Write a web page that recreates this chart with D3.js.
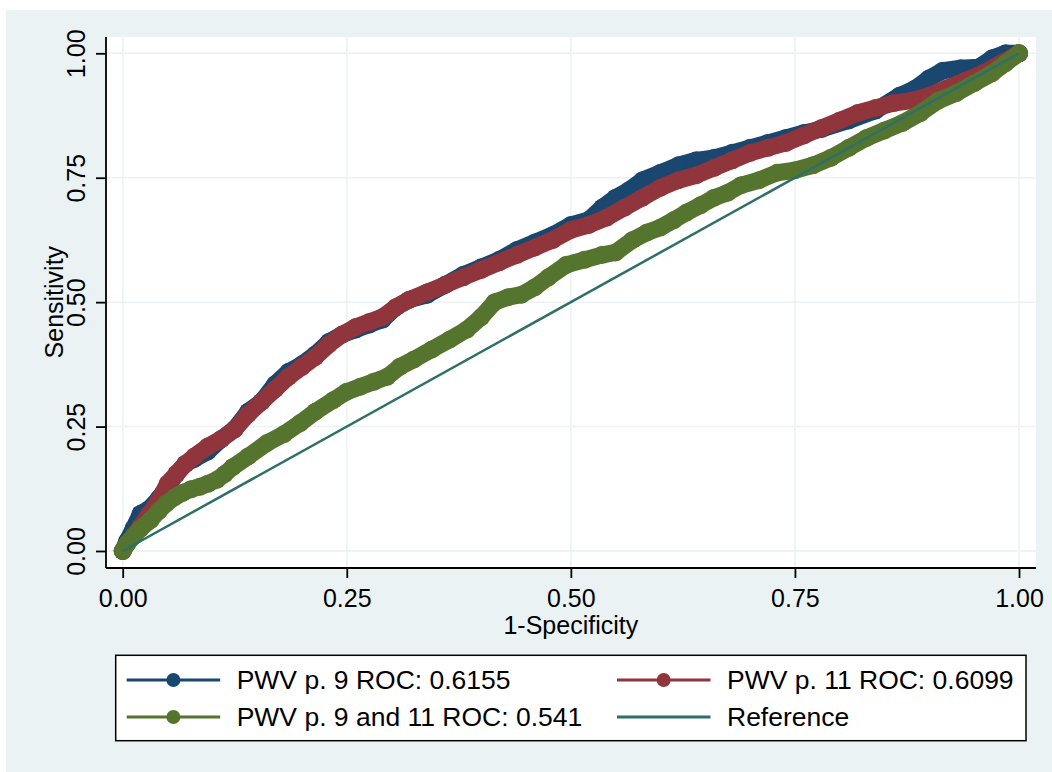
<!DOCTYPE html>
<html>
<head>
<meta charset="utf-8">
<script src="https://cdn.jsdelivr.net/npm/d3@7"></script>
<style>
  html, body { margin: 0; padding: 0; background: #ffffff; }
  svg { display: block; }
  text { font-family: "Liberation Sans", Arial, Helvetica, sans-serif; fill: #000; }
</style>
</head>
<body>
<svg id="chart" width="1052" height="772"></svg>
<script>
// ROC points [1-specificity, sensitivity] for each marker
const pwv9 = [
  [0,0],[0.005,0.02],[0.012,0.045],[0.02,0.075],[0.03,0.085],[0.04,0.105],[0.05,0.13],
  [0.06,0.155],[0.07,0.175],[0.08,0.185],[0.095,0.2],[0.11,0.225],[0.125,0.245],[0.14,0.28],
  [0.155,0.3],[0.17,0.335],[0.185,0.36],[0.2,0.375],[0.215,0.395],[0.23,0.42],[0.245,0.435],
  [0.26,0.445],[0.275,0.455],[0.29,0.465],[0.305,0.49],[0.32,0.505],[0.34,0.515],[0.36,0.535],
  [0.38,0.555],[0.40,0.57],[0.42,0.585],[0.44,0.605],[0.46,0.62],[0.48,0.635],[0.50,0.655],
  [0.52,0.665],[0.535,0.69],[0.55,0.71],[0.565,0.725],[0.58,0.745],[0.60,0.76],[0.62,0.775],
  [0.64,0.785],[0.66,0.79],[0.68,0.80],[0.70,0.81],[0.72,0.82],[0.74,0.83],[0.76,0.84],
  [0.78,0.848],[0.81,0.865],[0.84,0.885],[0.867,0.915],[0.885,0.93],[0.90,0.95],[0.915,0.965],
  [0.935,0.97],[0.955,0.972],[0.97,0.99],[0.985,1.0],[1,1]
];
const pwv11 = [
  [0,0],[0.005,0.015],[0.012,0.03],[0.02,0.05],[0.03,0.075],[0.04,0.1],[0.05,0.135],
  [0.06,0.155],[0.07,0.175],[0.08,0.19],[0.095,0.21],[0.11,0.225],[0.125,0.245],[0.14,0.275],
  [0.155,0.3],[0.17,0.325],[0.185,0.35],[0.2,0.37],[0.215,0.39],[0.23,0.415],[0.245,0.435],
  [0.26,0.45],[0.275,0.46],[0.29,0.47],[0.305,0.49],[0.32,0.505],[0.34,0.52],[0.36,0.535],
  [0.38,0.55],[0.40,0.565],[0.42,0.58],[0.44,0.595],[0.46,0.61],[0.48,0.625],[0.50,0.645],
  [0.52,0.655],[0.54,0.67],[0.56,0.69],[0.58,0.71],[0.60,0.73],[0.62,0.745],[0.64,0.755],
  [0.66,0.77],[0.68,0.785],[0.70,0.80],[0.72,0.81],[0.74,0.82],[0.76,0.835],[0.78,0.85],
  [0.80,0.865],[0.82,0.88],[0.84,0.89],[0.86,0.9],[0.88,0.905],[0.90,0.915],[0.92,0.93],
  [0.94,0.945],[0.96,0.96],[0.98,0.98],[1,1]
];
const pwv9and11 = [
  [0,0],[0.005,0.015],[0.012,0.03],[0.02,0.045],[0.031,0.062],[0.04,0.08],[0.049,0.096],
  [0.058,0.108],[0.067,0.117],[0.076,0.124],[0.086,0.129],[0.095,0.135],[0.105,0.143],
  [0.114,0.155],[0.123,0.169],[0.14,0.19],[0.161,0.217],[0.18,0.235],[0.198,0.257],
  [0.215,0.28],[0.235,0.303],[0.25,0.32],[0.265,0.33],[0.28,0.34],[0.295,0.35],[0.309,0.37],
  [0.325,0.385],[0.345,0.405],[0.365,0.425],[0.384,0.445],[0.40,0.47],[0.415,0.5],[0.43,0.51],
  [0.445,0.515],[0.46,0.53],[0.475,0.55],[0.495,0.575],[0.515,0.585],[0.535,0.595],[0.55,0.6],
  [0.569,0.625],[0.585,0.64],[0.6,0.65],[0.615,0.665],[0.629,0.68],[0.645,0.695],[0.66,0.71],
  [0.675,0.72],[0.69,0.735],[0.71,0.745],[0.73,0.76],[0.75,0.765],[0.77,0.775],[0.79,0.79],
  [0.81,0.81],[0.83,0.83],[0.85,0.845],[0.87,0.86],[0.89,0.88],[0.91,0.905],[0.93,0.92],
  [0.95,0.94],[0.97,0.96],[0.985,0.98],[1,1]
];
const referenceLine = [[0,0],[1,1]];

const tickValues = [0, 0.25, 0.5, 0.75, 1];
const tickLabels = ["0.00", "0.25", "0.50", "0.75", "1.00"];
const seriesNames = ["PWV p. 9 ROC: 0.6155", "PWV p. 11 ROC: 0.6099", "PWV p. 9 and 11 ROC: 0.541", "Reference"];
const seriesColors = ["#1a476f", "#90353b", "#55752f", "#2e6f68"];

const svg = d3.select("#chart");
const bgColor = "#eaf2f3";

// outer graph region
svg.append("rect").attr("x", 6).attr("y", 10).attr("width", 1046).attr("height", 762).attr("fill", bgColor);

// plot region
const plot = { left: 106, top: 37, right: 1036, bottom: 568 };
svg.append("rect")
  .attr("x", plot.left).attr("y", plot.top)
  .attr("width", plot.right - plot.left).attr("height", plot.bottom - plot.top)
  .attr("fill", "#ffffff");

const x = d3.scaleLinear().domain([0, 1]).range([122.7, 1019]);
const y = d3.scaleLinear().domain([0, 1]).range([551, 53.3]);

// grid lines
const grid = svg.append("g");
grid.selectAll("line.v").data(tickValues).join("line")
  .attr("x1", d => x(d)).attr("x2", d => x(d))
  .attr("y1", plot.top).attr("y2", plot.bottom)
  .attr("stroke", bgColor).attr("stroke-width", 1.5);
grid.selectAll("line.h").data(tickValues).join("line")
  .attr("y1", d => y(d)).attr("y2", d => y(d))
  .attr("x1", plot.left).attr("x2", plot.right)
  .attr("stroke", bgColor).attr("stroke-width", 1.5);

// ROC curves: thick connected line plus circular markers
const line = d3.line().x(d => x(d[0])).y(d => y(d[1]));
const curves = [pwv9, pwv11, pwv9and11];
curves.forEach((pts, i) => {
  const g = svg.append("g");
  g.append("path").datum(pts)
    .attr("d", line)
    .attr("fill", "none")
    .attr("stroke", seriesColors[i])
    .attr("stroke-width", 17)
    .attr("stroke-linejoin", "round")
    .attr("stroke-linecap", "round");
  g.selectAll("circle").data(pts).join("circle")
    .attr("cx", d => x(d[0])).attr("cy", d => y(d[1]))
    .attr("r", 9)
    .attr("fill", seriesColors[i]);
});

// reference diagonal
svg.append("path").datum(referenceLine)
  .attr("d", line)
  .attr("fill", "none")
  .attr("stroke", seriesColors[3])
  .attr("stroke-width", 2.5);

// axes
const fmt = d => tickLabels[tickValues.indexOf(d)];
const xAxis = d3.axisBottom(x).tickValues(tickValues).tickFormat(fmt).tickSize(10).tickSizeOuter(0);
const yAxis = d3.axisLeft(y).tickValues(tickValues).tickFormat(fmt).tickSize(10).tickSizeOuter(0);

const gx = svg.append("g").attr("transform", `translate(0,${plot.bottom})`).call(xAxis);
gx.select(".domain").remove();
gx.append("line").attr("x1", plot.left).attr("x2", plot.right).attr("y1", 0).attr("y2", 0)
  .attr("stroke", "#000").attr("stroke-width", 1.8);
gx.selectAll(".tick line").attr("stroke", "#000").attr("stroke-width", 1.8);
gx.selectAll(".tick text").attr("font-size", 25).attr("font-family", "Liberation Sans, Arial, sans-serif")
  .attr("fill", "#000").attr("y", 39).attr("dy", null);

const gy = svg.append("g").attr("transform", `translate(${plot.left},0)`).call(yAxis);
gy.select(".domain").remove();
gy.append("line").attr("x1", 0).attr("x2", 0).attr("y1", plot.top).attr("y2", plot.bottom)
  .attr("stroke", "#000").attr("stroke-width", 1.8);
gy.selectAll(".tick line").attr("stroke", "#000").attr("stroke-width", 1.8);
gy.selectAll(".tick text")
  .attr("font-size", 25).attr("font-family", "Liberation Sans, Arial, sans-serif").attr("fill", "#000")
  .attr("x", null).attr("dy", null)
  .attr("text-anchor", "middle")
  .attr("transform", "translate(-21,0) rotate(-90)");

// axis titles
svg.append("text")
  .attr("x", (x(0) + x(1)) / 2).attr("y", 634)
  .attr("text-anchor", "middle").attr("font-size", 25)
  .text("1-Specificity");
svg.append("text")
  .attr("transform", `translate(63,${(y(0) + y(1)) / 2}) rotate(-90)`)
  .attr("text-anchor", "middle").attr("font-size", 25)
  .text("Sensitivity");

// legend
const legend = svg.append("g");
legend.append("rect")
  .attr("x", 115.7).attr("y", 655.3).attr("width", 910.3).attr("height", 85.4)
  .attr("fill", "#ffffff").attr("stroke", "#000").attr("stroke-width", 1.5);

const legendItems = [
  { i: 0, col: 0, row: 0, marker: true },
  { i: 1, col: 1, row: 0, marker: true },
  { i: 2, col: 0, row: 1, marker: true },
  { i: 3, col: 1, row: 1, marker: false }
];
const colX = [126.7, 617];
const rowY = [680, 717];
legendItems.forEach(it => {
  const x0 = colX[it.col], yc = rowY[it.row];
  legend.append("line")
    .attr("x1", x0).attr("x2", x0 + 93.5).attr("y1", yc).attr("y2", yc)
    .attr("stroke", seriesColors[it.i]).attr("stroke-width", 3);
  if (it.marker) {
    legend.append("circle").attr("cx", x0 + 46.7).attr("cy", yc).attr("r", 7)
      .attr("fill", seriesColors[it.i]);
  }
  legend.append("text")
    .attr("transform", `translate(${x0 + 110},${yc + 9}) scale(1.06,1)`)
    .attr("font-size", 25)
    .text(seriesNames[it.i]);
});
</script>
</body>
</html>
